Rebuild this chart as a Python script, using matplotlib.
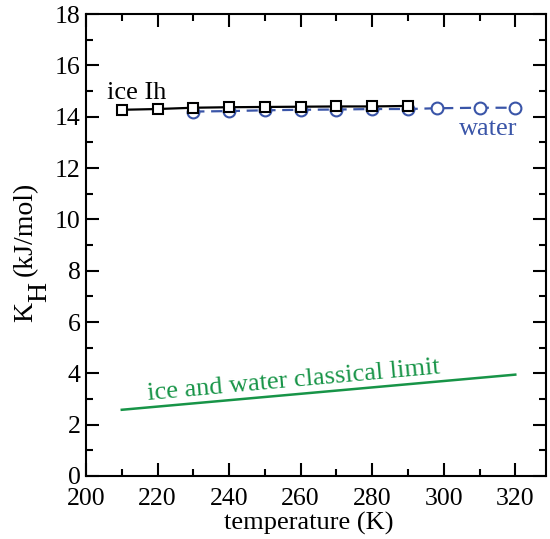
import matplotlib
matplotlib.use("Agg")
import matplotlib.pyplot as plt
from matplotlib.ticker import MultipleLocator

plt.rcParams['font.family'] = ['Liberation Serif', 'DejaVu Serif']

# ice Ih
T_ice = [210, 220, 230, 240, 250, 260, 270, 280, 290]
K_ice = [14.27, 14.30, 14.35, 14.37, 14.38, 14.39, 14.40, 14.40, 14.42]

# water
T_water = [230, 240, 250, 260, 270, 280, 290, 298, 310, 320]
K_water = [14.20, 14.22, 14.25, 14.27, 14.28, 14.30, 14.30, 14.33, 14.35, 14.35]

# classical limit (ice and water)
T_cl = [210, 320]
K_cl = [2.58, 3.95]

blue = '#3a55a8'
green = '#179447'

W, H = 550, 539
fig = plt.figure(figsize=(W / 100, H / 100), dpi=100)
ax = fig.add_axes([0.1564, 0.1169, 0.8364, 0.857])

ax.plot(T_cl, K_cl, color=green, lw=1.8)
ax.plot(T_water, K_water, color=blue, lw=1.6, ls=(0, (5, 3)), marker='o',
        ms=8.5, mfc='white', mec=blue, mew=1.5, zorder=3)
ax.plot(T_ice, K_ice, color='black', lw=1.6, marker='s',
        ms=7, mfc='white', mec='black', mew=1.5, zorder=4)

ax.text(206, 14.7, 'ice Ih', fontsize=19, color='black')
ax.text(304.3, 13.3, 'water', fontsize=19, color=blue)
ax.text(217.3, 2.95, 'ice and water classical limit', fontsize=19,
        color=green, rotation=5.2, rotation_mode='anchor')

ax.set_xlim(200, 328.6)
ax.set_ylim(0, 18)
ax.xaxis.set_major_locator(MultipleLocator(20))
ax.xaxis.set_minor_locator(MultipleLocator(10))
ax.yaxis.set_major_locator(MultipleLocator(2))
ax.yaxis.set_minor_locator(MultipleLocator(1))
ax.tick_params(which='both', direction='in', top=True, right=True,
               labelsize=18.5, width=1.5)
ax.tick_params(which='major', length=9.5)
ax.tick_params(which='minor', length=5)
ax.tick_params(axis='x', which='major', pad=9)
ax.tick_params(axis='y', which='major', pad=4)
for s in ax.spines.values():
    s.set_linewidth(1.5)

ax.set_xlabel('temperature (K)', fontsize=19, labelpad=1, x=0.484)

# y label: K with a full-size, dropped subscript H
lab = dict(fontsize=20, rotation=90, rotation_mode='anchor',
           ha='left', va='baseline')
fig.text(32 / W, 1 - 322 / H, 'K', **lab)
fig.text(46 / W, 1 - 302 / H, 'H', **lab)
fig.text(32 / W, 1 - 276 / H, '(kJ/mol)', **lab)

fig.savefig('out.png', dpi=100)
